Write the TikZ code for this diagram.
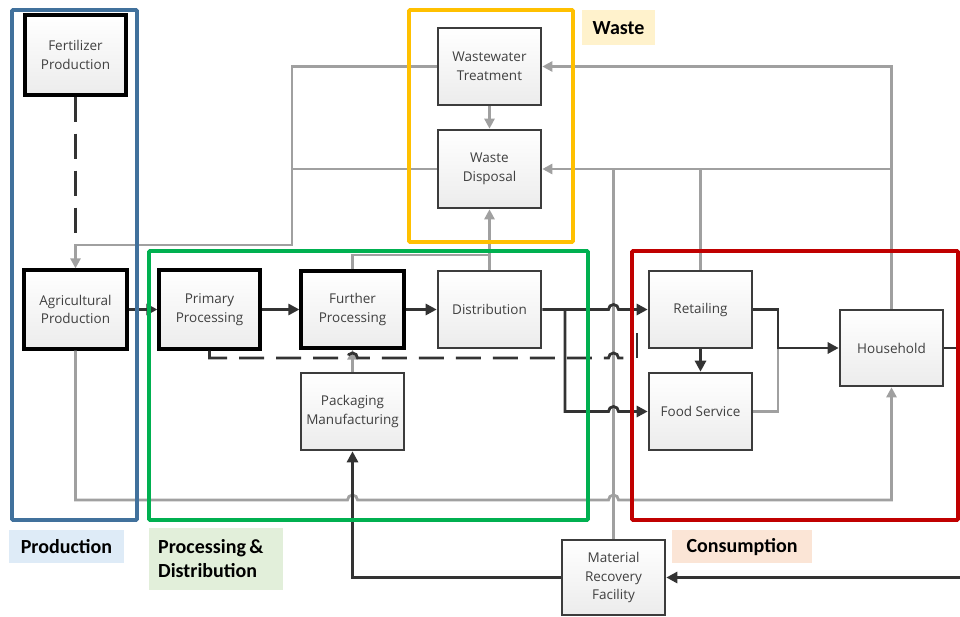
\documentclass[tikz,border=0pt]{standalone}
\usepackage{fontspec}
\setmainfont{Open Sans}
\newfontfamily\lblfont{Carlito}
\usetikzlibrary{arrows.meta}
\definecolor{cblue}{HTML}{41719C}
\definecolor{cgreen}{HTML}{00B050}
\definecolor{corange}{HTML}{FFC000}
\definecolor{cred}{HTML}{C00000}
\definecolor{fblue}{HTML}{DEEBF7}
\definecolor{fgreen}{HTML}{E2EFDA}
\definecolor{forange}{HTML}{FFF2CC}
\definecolor{fred}{HTML}{FBE5D6}
\definecolor{lgray}{HTML}{A0A0A0}
\definecolor{dline}{HTML}{333333}
\definecolor{boxborder}{HTML}{3C3C3C}
\definecolor{txt}{HTML}{404040}
\tikzset{
  box/.style={draw=boxborder, line width=2.6pt, top color=white, bottom color=gray!15,
    minimum width=103pt, minimum height=77pt, align=center, text=txt,
    font=\fontsize{13.5pt}{18.5pt}\selectfont, inner sep=2pt},
  bbox/.style={box, draw=black, line width=3.2pt},
  blk/.style={draw=dline, line width=2.8pt},
  gry/.style={draw=lgray, line width=2.8pt},
  tipb/.style={-{Triangle[length=11pt,width=11pt]}},
  tipg/.style={-{Triangle[length=10pt,width=10pt]}},
  dsh/.style={dash pattern=on 25pt off 12pt},
  grp/.style={line width=3.6pt, rounded corners=1pt},
  lbl/.style={font=\lblfont\bfseries\fontsize{20pt}{24pt}\selectfont, text=black, inner sep=0pt}
}
\begin{document}
\begin{tikzpicture}[x=1pt,y=-1pt]
\useasboundingbox (0,0) rectangle (960,617);
% nodes
\node[bbox, minimum width=101pt, minimum height=80pt] (fert) at (75.5,55) {Fertilizer\\Production};
\node[bbox, minimum height=79pt] (agri) at (75.5,309.5) {Agricultural\\Production};
\node[bbox, minimum width=101pt, minimum height=79pt] (prim) at (209.5,309.5) {Primary\\Processing};
\node[bbox] (furt) at (352.5,309.5) {Further\\Processing};
\node[box] (dist) at (489.5,309.5) {Distribution};
\node[box] (pack) at (352.5,411.5) {Packaging\\Manufacturing};
\node[box] (wwt) at (489.5,66.5) {Wastewater\\Treatment};
\node[box, minimum height=78pt] (wd) at (489.5,169) {Waste\\Disposal};
\node[box] (ret) at (700.5,309.5) {Retailing};
\node[box] (food) at (700.5,411.5) {Food Service};
\node[box, minimum height=76pt] (house) at (891.5,348) {Household};
\node[box, minimum height=75pt] (mrf) at (613.5,577.5) {Material\\Recovery\\Facility};
\coordinate (redge) at (960,577.5);
\coordinate (hedge) at (960,348);
\coordinate (ftick) at (637,333);
% gray connectors
\draw[gry, tipg] (wwt.west) -- (292,66.5) -- (292,245) -- (75.5,245) -- (agri.north);
\draw[gry] (wd.west) -- (292,169);
\draw[gry, tipg] (pack.north) -- (furt.south);
\draw[gry] (furt.north) -- (352.5,255) -- (489.5,255);
\draw[gry, tipg] (dist.north) -- (wd.south);
\draw[gry, tipg] (wwt.south) -- (wd.north);
\draw[gry, tipg] (house.north) -- (house.north |- wwt.east) -- (wwt.east);
\draw[gry, tipg] (house.north |- wd.east) -- (wd.east);
\draw[gry] (ret.north) -- (ret.north |- wd.east);
\draw[gry] (mrf.north) -- (mrf.north |- wd.east);
\draw[gry] (food.east) -- (778,411.5) -- (778,348);
\draw[gry, tipg] (agri.south) -- (75.5,500) -- (347.5,500) arc[start angle=180,end angle=360,radius=5]
  -- (608.5,500) arc[start angle=180,end angle=360,radius=5] -- (891.5,500) -- (house.south);
% black connectors
\draw[blk, dsh] (fert.south) -- (75.5,233);
\draw[blk, tipb] (agri.east) -- (prim.west);
\draw[blk, tipb] (prim.east) -- (furt.west);
\draw[blk, tipb] (furt.east) -- (dist.west);
\draw[blk, tipb] (dist.east) -- (608.5,309.5) arc[start angle=180,end angle=360,radius=5] -- (ret.west);
\draw[blk, tipb] (565,309.5) -- (565,411.5) -- (608.5,411.5) arc[start angle=180,end angle=360,radius=5] -- (food.west);
\draw[blk, dsh] (prim.south) -- (209.5,358) -- (347.5,358) arc[start angle=180,end angle=360,radius=5]
  -- (608.5,358) arc[start angle=180,end angle=360,radius=5] -- (628,358);
\draw[blk] (637,358) -- (ftick);
\draw[blk, tipb] (ret.south) -- (food.north);
\draw[blk, tipb] (ret.east) -- (778,309.5) -- (778,348) -- (house.west);
\draw[blk] (house.east) -- (hedge);
\draw[blk, tipb] (redge) -- (mrf.east);
\draw[blk, tipb] (mrf.west) -- (352.5,577.5) -- (pack.south);
% group frames
\draw[grp, cblue] (12,10) rectangle (137,520);
\draw[grp, cgreen] (149,251) rectangle (588,520);
\draw[grp, corange] (409,10) rectangle (573,242);
\draw[grp, cred] (632,251) rectangle (958,520);
% group labels
\fill[fblue] (9,530) rectangle (124,563);
\node[lbl] (lprod) at (66.5,547) {Production};
\fill[fgreen] (149,528) rectangle (283,590);
\node[lbl, anchor=west, align=left] (lproc) at (158,559) {Processing\,\&\\Distribution};
\fill[forange] (582,10) rectangle (655,45);
\node[lbl] (lwaste) at (618.5,28) {Waste};
\fill[fred] (672,530) rectangle (812,563);
\node[lbl] (lcons) at (742,547) {Consumption};
\end{tikzpicture}
\end{document}
